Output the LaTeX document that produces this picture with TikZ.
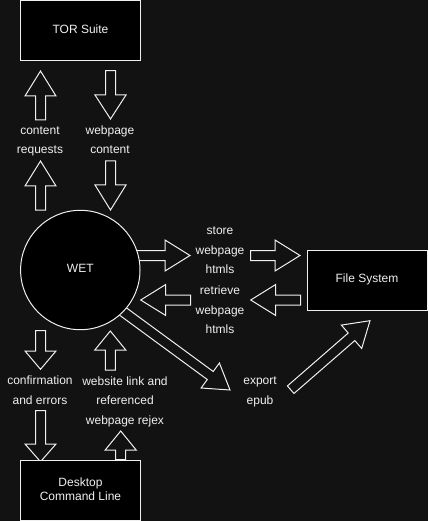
\documentclass[tikz,border=0pt]{standalone}
\usepackage{fontspec}
\setmainfont{Liberation Sans}
\usetikzlibrary{calc}
\definecolor{bgc}{RGB}{18,18,18}
\definecolor{fgc}{RGB}{240,240,240}
\tikzset{
  boxnode/.style={draw=fgc, fill=black, line width=1pt},
  boxtext/.style={text=fgc, align=center, font=\fontsize{12}{13.8}\selectfont, inner sep=0pt},
  lbl/.style={text=fgc, align=center, font=\fontsize{12}{19.5}\selectfont, inner sep=0pt},
  arrowline/.style={draw=fgc, line width=1pt, line join=miter},
}
\newcommand\barrow[3]{%
  \coordinate (hb) at ($(#2)!#3!(#1)$);
  \draw[arrowline] ($(#1)!5pt!90:(#2)$) -- ($(hb)!5pt!-90:(#1)$) -- ($(hb)!15.5pt!-90:(#1)$) -- (#2)
     -- ($(hb)!15.5pt!90:(#1)$) -- ($(hb)!5pt!90:(#1)$) -- ($(#1)!5pt!-90:(#2)$) -- cycle;
}
\begin{document}
\begin{tikzpicture}[x=1pt,y=-1pt]
\fill[bgc] (0,0) rectangle (428,521);
\useasboundingbox (0,0) rectangle (428,521);

% arrow end points
\coordinate (a1t) at (40.5,120);  \coordinate (a1h) at (40.5,71);
\coordinate (a2t) at (40.5,210);  \coordinate (a2h) at (40.5,161);
\coordinate (a3t) at (110.5,70.7); \coordinate (a3h) at (110.5,119);
\coordinate (a4t) at (110.5,161); \coordinate (a4h) at (110.5,210);
\coordinate (a5t) at (135,255.5); \coordinate (a5h) at (190,255.5);
\coordinate (a6t) at (250.7,255.5); \coordinate (a6h) at (300,255.5);
\coordinate (a7t) at (190.7,300); \coordinate (a7h) at (140.7,300);
\coordinate (a8t) at (300.7,300); \coordinate (a8h) at (250.7,300);
\coordinate (a9t) at (108,300.5); \coordinate (a9h) at (230,390);
\coordinate (a10t) at (290.7,389.7); \coordinate (a10h) at (370,320.7);
\coordinate (a11t) at (40.5,330.7); \coordinate (a11h) at (40.5,369.3);
\coordinate (a12t) at (40.5,410.7); \coordinate (a12h) at (40.5,461.7);
\coordinate (a13t) at (110.3,370); \coordinate (a13h) at (110.3,331);
\coordinate (a14t) at (120.7,459.5); \coordinate (a14h) at (120.7,431);

\barrow{a1t}{a1h}{25pt}
\barrow{a2t}{a2h}{25pt}
\barrow{a3t}{a3h}{24pt}
\barrow{a4t}{a4h}{25pt}
\barrow{a5t}{a5h}{25pt}
\barrow{a6t}{a6h}{25pt}
\barrow{a7t}{a7h}{25pt}
\barrow{a8t}{a8h}{25pt}
\barrow{a9t}{a9h}{24.5pt}
\barrow{a10t}{a10h}{24.5pt}
\barrow{a11t}{a11h}{18.3pt}
\barrow{a12t}{a12h}{17.7pt}
\barrow{a13t}{a13h}{19pt}
\barrow{a14t}{a14h}{19pt}

% shapes
\draw[boxnode] (20.5,0.5) rectangle (140.5,60.5);
\node[boxtext] (tor) at (80.5,29) {TOR Suite};
\draw[boxnode] (307.5,250.5) rectangle (427.5,310.5);
\node[boxtext] (fs) at (367,279) {File System};
\draw[boxnode] (20.5,460.5) rectangle (140.5,520.5);
\node[boxtext] (dcl) at (80.5,489) {Desktop\\Command Line};
\draw[boxnode] (80.3,270) circle[radius=59.7];
\node[boxtext] (wet) at (80.3,268.5) {WET};

% labels
\node[lbl] (l1) at (40,140) {\strut content\\\strut requests};
\node[lbl] (l2) at (110,140) {\strut webpage\\\strut content};
\node[lbl] (l3) at (220,250.5) {\strut store\\\strut webpage\\\strut htmls};
\node[lbl] (l4) at (220,310.5) {\strut retrieve\\\strut webpage\\\strut htmls};
\node[lbl] (l5) at (260,390.5) {\strut export\\\strut epub};
\node[lbl] (l6) at (40,390.5) {\strut confirmation\\\strut and errors};
\node[lbl] (l7) at (125,401) {\strut website link and\\\strut referenced\\\strut webpage rejex};
\end{tikzpicture}
\end{document}
